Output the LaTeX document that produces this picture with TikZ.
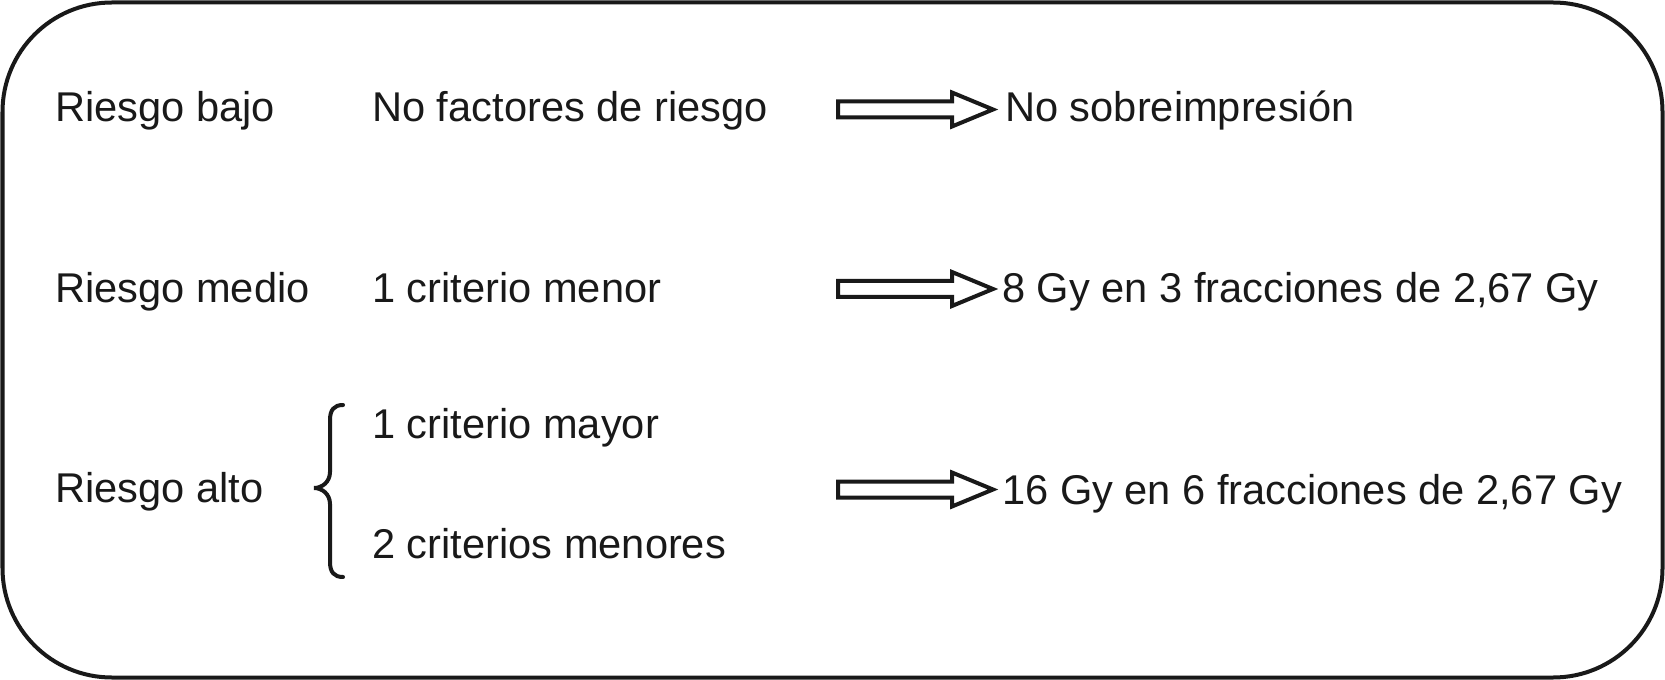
\documentclass[tikz,border=0pt]{standalone}
\usepackage{fontspec}
\setmainfont{Liberation Sans}
\begin{document}
\begin{tikzpicture}[x=0.75pt,y=-0.75pt,
  lbl/.style={anchor=base west,inner sep=0pt,font=\fontsize{31.2}{37}\selectfont,text=black!90},
  fatarrow/.style={draw=black!90,line width=3pt,line join=miter},
  frame/.style={draw=black!90,line width=3pt,rounded corners=82pt},
  bracestyle/.style={draw=black!90,line width=3pt,line cap=round}]
\useasboundingbox (0,0) rectangle (1665,680);
\draw[frame] (2.5,2.5) rectangle (1662.5,677.5);
% column 1
\node[lbl] (r1) at (55,122) {Riesgo bajo};
\node[lbl] (r2) at (55,303) {Riesgo medio};
\node[lbl] (r3) at (55,502) {Riesgo alto};
% column 2
\node[lbl] (c1) at (372,122) {No factores de riesgo};
\node[lbl] (c2) at (372,303) {1 criterio menor};
\node[lbl] (c3a) at (372,438) {1 criterio mayor};
\node[lbl] (c3b) at (372,558) {2 criterios menores};
% column 3
\node[lbl] (d1) at (1005,122) {No sobreimpresión};
\node[lbl] (d2) at (1002,303) {8 Gy en 3 fracciones de 2,67 Gy};
\node[lbl] (d3) at (1002,504) {16 Gy en 6 fracciones de 2,67 Gy};
% arrows
\foreach \c in {109.5,289,489.5}{
  \draw[fatarrow] (838,\c-8) -- (952,\c-8) -- (952,\c-17) -- (993,\c) -- (952,\c+17) -- (952,\c+8) -- (838,\c+8) -- cycle;
}
% brace
\draw[bracestyle] (343,405) .. controls (334,405) and (330,410) .. (330,420) -- (330,472)
  .. controls (330,482) and (322,488) .. (314,488)
  .. controls (322,488) and (330,494) .. (330,504) -- (330,562)
  .. controls (330,572) and (334,577) .. (343,577);
\end{tikzpicture}
\end{document}
